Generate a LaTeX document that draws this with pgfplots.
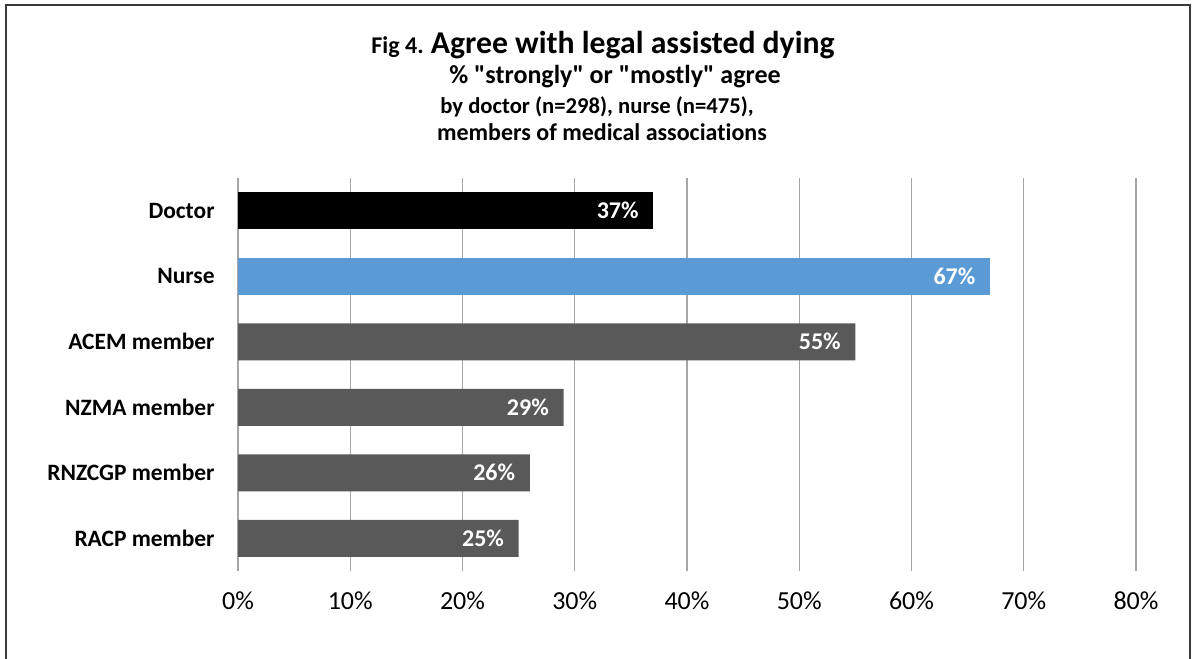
\documentclass[border=0pt]{standalone}
\usepackage{pgfplots}
\pgfplotsset{compat=1.18}
\usepackage{fontspec}
\setmainfont{Carlito}[Ligatures={TeXOff,NoCommon}]
\definecolor{nurseblue}{HTML}{5B9BD5}
\definecolor{memgray}{HTML}{595959}
\definecolor{gridgray}{HTML}{A6A6A6}
\definecolor{framegray}{HTML}{3A3A3A}
\begin{document}
\begin{tikzpicture}[x=0.75pt,y=0.75pt]
% canvas 1194 x 659 px, y up
\path[use as bounding box] (0,0) rectangle (1194,659);
\draw[framegray, line width=1.5pt] (6,0) -- (6,654) -- (1190,654) -- (1190,0);
% titles
\node[font=\bfseries, anchor=base] at (603,659-54) {\fontsize{18}{20}\selectfont Fig 4. \fontsize{23.8}{27}\selectfont Agree with legal assisted dying};
\node[font=\bfseries\fontsize{19.5}{22}\selectfont, anchor=base] at (615,659-84) {\% "strongly" or "mostly" agree};
\node[font=\bfseries\fontsize{17}{20}\selectfont, anchor=base] at (597,659-114) {by doctor (n=298), nurse (n=475),};
\node[font=\bfseries\fontsize{18}{20}\selectfont, anchor=base] at (602,659-141) {members of medical associations};
\begin{axis}[
  at={(178.5pt,66pt)}, anchor=south west,
  scale only axis, width=673.5pt, height=294.75pt,
  xmin=0, xmax=80, ymin=-0.5, ymax=5.5, y dir=reverse,
  axis line style={draw=none},
  xtick={0,10,20,30,40,50,60,70,80},
  xticklabels={0\%,10\%,20\%,30\%,40\%,50\%,60\%,70\%,80\%},
  ytick={0,1,2,3,4,5},
  yticklabels={Doctor,Nurse,ACEM member,NZMA member,RNZCGP member,RACP member},
  major tick length=0,
  xmajorgrids, major grid style={gridgray, line width=0.8pt},
  xticklabel style={font=\fontsize{19.5}{22}\selectfont, yshift=-12pt},
  yticklabel style={font=\bfseries\fontsize{17.6}{21}\selectfont, xshift=-14pt},
  xbar, bar width=27.75pt, bar shift=0pt,
  nodes near coords={\pgfmathprintnumber{\pgfplotspointmeta}\%},
  /pgf/number format/assume math mode=true,
  every node near coord/.append style={anchor=east, xshift=-7.5pt, text=white, font=\bfseries\fontsize{18}{21}\selectfont},
  point meta=x,
  clip=false,
]
\addplot[fill=black, draw=none] coordinates {(37,0)};
\addplot[fill=nurseblue, draw=none] coordinates {(67,1)};
\addplot[fill=memgray, draw=none] coordinates {(55,2) (29,3) (26,4) (25,5)};
\end{axis}
\end{tikzpicture}
\end{document}
